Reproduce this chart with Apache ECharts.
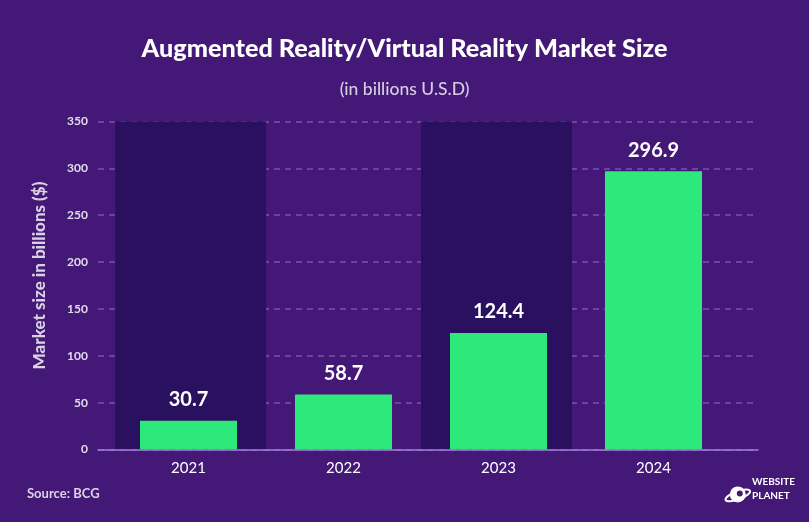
<!DOCTYPE html>
<html>
<head>
<meta charset="utf-8">
<script src="https://cdn.jsdelivr.net/npm/echarts@6/dist/echarts.min.js"></script>
<style>html,body{margin:0;padding:0;background:#431877;}#c{width:809px;height:522px;}</style>
</head>
<body>
<div id="c"></div>
<script>
const categories = ['2021', '2022', '2023', '2024'];
const marketSize = [30.7, 58.7, 124.4, 296.9];
const bandValues = [350, '-', 350, '-'];
const yTicks = [0, 50, 100, 150, 200, 250, 300, 350];

const chart = echarts.init(document.getElementById('c'), null, {renderer: 'canvas'});
const font = 'Lato, "Noto Sans", sans-serif';
const hiddenY = (g) => ({type: 'value', gridIndex: g, min: 0, max: 350, interval: 50,
  axisLabel: {show: false}, axisLine: {show: false}, axisTick: {show: false}, splitLine: {show: false}});
const option = {
  backgroundColor: '#431877',
  animation: false,
  title: [
    {text: 'Augmented Reality/Virtual Reality Market Size', left: 'center', top: 31,
     textStyle: {color: '#ffffff', fontFamily: font, fontWeight: 900, fontSize: 25.2}},
    {text: '(in billions U.S.D)', left: 'center', top: 75,
     textStyle: {color: '#d6cde3', fontFamily: font, fontWeight: 500, fontSize: 17.5}}
  ],
  grid: [
    {left: 98, width: 660, top: 121.5, height: 328},
    {left: 111, width: 620, top: 121.5, height: 328},
    {left: 114, width: 612, top: 121.5, height: 328}
  ],
  xAxis: [
    {type: 'category', gridIndex: 0, data: categories, axisTick: {show: false},
     axisLabel: {show: false}, axisLine: {show: true, lineStyle: {color: '#a57ddc', width: 1.5}}, z: 5},
    {type: 'category', gridIndex: 1, data: categories, axisTick: {show: false},
     axisLine: {show: false},
     axisLabel: {color: '#ffffff', fontFamily: font, fontSize: 15, margin: 11}},
    {type: 'category', gridIndex: 2, data: categories, show: false}
  ],
  yAxis: [
    {type: 'value', gridIndex: 0, min: 0, max: 350, interval: 50,
     name: 'Market size in billions ($)', nameLocation: 'middle', nameGap: 50,
     nameTextStyle: {color: '#d8d0e3', fontFamily: font, fontWeight: 900, fontSize: 17, padding: [0, 0, 0, 20]},
     axisLabel: {color: '#e2dbea', fontFamily: font, fontWeight: 'bold', fontSize: 12, margin: 10,
       formatter: v => yTicks.includes(v) ? String(v) : ''},
     axisLine: {show: false}, axisTick: {show: false},
     splitLine: {show: true, lineStyle: {color: '#7a52b4', type: [6, 5], width: 1.5}}},
    hiddenY(1),
    hiddenY(2)
  ],
  series: [
    {type: 'bar', xAxisIndex: 2, yAxisIndex: 2, data: bandValues, barWidth: 151,
     itemStyle: {color: '#2a1160'}, z: 0, silent: true},
    {type: 'bar', xAxisIndex: 1, yAxisIndex: 1, data: marketSize, barWidth: 97,
     itemStyle: {color: '#2de87a'}, z: 3,
     label: {show: true, position: 'top', distance: 11, color: '#ffffff', fontFamily: font,
       fontWeight: 'bold', fontSize: 20, formatter: p => p.value.toFixed(1)}}
  ],
  graphic: [
    {type: 'text', left: 27, top: 487, style: {text: 'Source: BCG', fill: '#dcd4e6',
      font: 'bold 13px ' + font}},
    {type: 'group', left: 721, top: 484, children: [
      {type: 'circle', shape: {cx: 11, cy: 10, r: 8}, style: {fill: '#ffffff'}},
      {type: 'ellipse', shape: {cx: 11, cy: 11, rx: 13, ry: 4}, rotation: 0.35, originX: 11, originY: 11,
       style: {fill: 'none', stroke: '#ffffff', lineWidth: 2}},
      {type: 'circle', shape: {cx: 13, cy: 9, r: 3}, style: {fill: '#431877'}}
    ]},
    {type: 'text', left: 752, top: 477, style: {text: 'WEBSITE', fill: '#ffffff',
      font: 'bold 10px ' + font}},
    {type: 'text', left: 752, top: 491, style: {text: 'PLANET', fill: '#ffffff',
      font: 'bold 10px ' + font}}
  ]
};
chart.setOption(option);
</script>
</body>
</html>
